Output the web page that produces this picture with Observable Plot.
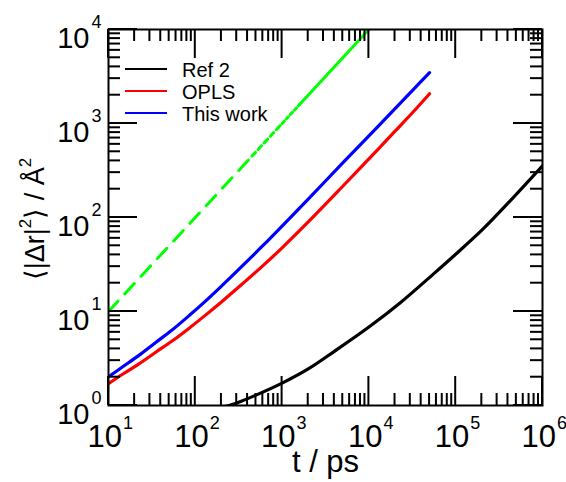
<!DOCTYPE html>
<html>
<head>
<meta charset="utf-8">
<script src="https://cdn.jsdelivr.net/npm/d3@7"></script>
<script src="https://cdn.jsdelivr.net/npm/@observablehq/plot@0.6"></script>
<style>
  body { margin: 0; background: #fff; }
  #chart svg { display: block; }
</style>
</head>
<body>
<div id="chart"></div>
<script>
// Mean-squared displacement vs. time, log-log.
const seriesNames = ["Ref 2", "OPLS", "This work"];
const seriesColors = ["#000000", "#ff0000", "#0000ff"];

// Ref 2
const ref2T   = [200, 243, 300, 500, 1000, 2000, 4000, 10000, 23000, 56000, 100000, 200000, 400000, 1000000];
const ref2Msd = [0.95, 1.0, 1.065, 1.29, 1.73, 2.45, 3.77, 6.83, 12.4, 25.3, 40.7, 73.3, 142, 355];

// OPLS
const oplsT   = [10, 15, 22, 35, 54, 85, 131, 200, 317, 564, 1000, 2000, 5000, 10000, 20000, 35000, 50000];
const oplsMsd = [1.71, 2.19, 2.74, 3.69, 4.85, 6.65, 9.15, 12.65, 18.2, 29.1, 47.6, 89.7, 215, 420, 828, 1436, 2070];

// This work
const thisWorkT   = [10, 15, 22, 35, 54, 85, 131, 200, 317, 564, 1000, 2000, 5000, 10000, 20000, 35000, 50000];
const thisWorkMsd = [2.02, 2.63, 3.37, 4.68, 6.35, 9.05, 12.9, 18.6, 28.0, 47.4, 81, 157, 381, 739, 1440, 2470, 3480];

// slope-one guide (MSD proportional to t), split where its dash style changes
const guideT   = [10, 450, 900, 1600, 10000];
const guideMsd = [10, 450, 900, 1600, 10000];

// axis tick labels: base "10" with exponent
const tickBase = "10";
const xMajor = [10, 100, 1000, 10000, 100000, 1000000];
const xTickExp = ["1", "2", "3", "4", "5", "6"];
const yMajor = [1, 10, 100, 1000, 10000];
const yTickExp = ["0", "1", "2", "3", "4"];

const xTitle = "t / ps";

const rows = (t, v) => t.map((d, i) => ({t: d, msd: v[i]}));
const series = [rows(ref2T, ref2Msd), rows(oplsT, oplsMsd), rows(thisWorkT, thisWorkMsd)];

const minorOf = (majors) => majors.slice(0, -1).flatMap(m => [2, 3, 4, 5, 6, 7, 8, 9].map(k => k * m));
const xMinor = minorOf(xMajor);
const yMinor = minorOf(yMajor);

const W = 566, H = 482, mL = 108, mR = 24, mT = 29, mB = 77;
const fw = W - mL - mR, fh = H - mT - mB;
const MAJ = 29, MIN = 12;
const font = "'Liberation Sans', Arial, Helvetica, sans-serif";
const ink = "#000000";

const guideDash = ["14,10", "5,4", "3,3", null];
const guideMarks = guideT.slice(0, -1).map((t0, i) =>
  Plot.line(
    [{t: t0, msd: guideMsd[i]}, {t: guideT[i + 1], msd: guideMsd[i + 1]}],
    {x: "t", y: "msd", stroke: "#00ff00", strokeWidth: 3, strokeDasharray: guideDash[i] ?? undefined, clip: true}
  )
);

const chart = Plot.plot({
  width: W, height: H,
  marginLeft: mL, marginRight: mR, marginTop: mT, marginBottom: mB,
  style: {fontFamily: font, background: "white", color: "black", overflow: "visible"},
  x: {type: "log", domain: [10, 1e6], axis: null},
  y: {type: "log", domain: [1, 1e4], axis: null},
  marks: [
    ...guideMarks,
    ...series.map((s, i) => Plot.line(s, {
      x: "t", y: "msd", stroke: seriesColors[i], strokeWidth: 3.2,
      curve: "catmull-rom", strokeLinecap: "round", clip: true
    })),
    Plot.frame({stroke: ink, strokeWidth: 2}),
    // tick labels
    Plot.text(xMajor, {x: d => d, text: () => tickBase, frameAnchor: "bottom", textAnchor: "end",
      lineAnchor: "bottom", dx: 13.5, dy: 41, fontSize: 31, fill: ink}),
    Plot.text(xMajor, {x: d => d, text: (d, i) => xTickExp[i], frameAnchor: "bottom", textAnchor: "start",
      lineAnchor: "bottom", dx: 14.5, dy: 23, fontSize: 18, fill: ink}),
    Plot.text(yMajor, {y: d => d, text: () => tickBase, frameAnchor: "left", textAnchor: "end",
      lineAnchor: "bottom", dx: -19, dy: 18, fontSize: 29, fill: ink}),
    Plot.text(yMajor, {y: d => d, text: (d, i) => yTickExp[i], frameAnchor: "left", textAnchor: "start",
      lineAnchor: "bottom", dx: -17, dy: -2, fontSize: 18, fill: ink}),
    // x-axis title
    Plot.text([xTitle], {text: d => d, frameAnchor: "bottom", lineAnchor: "bottom", dy: 66, fontSize: 31, fill: ink})
  ]
});

document.getElementById("chart").appendChild(chart);

const svg = d3.select(chart);
const sx = chart.scale("x"), sy = chart.scale("y");
const frameLeft = mL, frameRight = W - mR, frameTop = mT, frameBottom = H - mB;

// y-axis title with superscripts
const yTitle = svg.append("text")
  .attr("transform", `translate(44, ${mT + fh / 2 + 2}) rotate(-90)`)
  .attr("text-anchor", "middle")
  .attr("font-family", font)
  .attr("font-size", 27)
  .attr("fill", ink);
yTitle.append("tspan").text("\u27E8|\u0394r|");
yTitle.append("tspan").attr("font-size", 17).attr("dy", -13).text("2");
yTitle.append("tspan").attr("dy", 13).text("\u27E9 / \u00C5");
yTitle.append("tspan").attr("font-size", 17).attr("dy", -13).text("2");

// legend
const legend = svg.append("g").attr("font-family", font).attr("font-size", 20).attr("text-anchor", "start");
seriesNames.forEach((name, i) => {
  const y = 69 + i * 22;
  legend.append("line").attr("x1", 125).attr("x2", 167).attr("y1", y).attr("y2", y)
    .attr("stroke", seriesColors[i]).attr("stroke-width", 2);
  legend.append("text").attr("x", 182).attr("y", y + 7.5).attr("fill", ink).text(name);
});

// inward ticks on all four sides, placed with the plot's own scales
const tickLayer = svg.append("g");
const tickLine = (x1, y1, x2, y2) => tickLayer.append("line")
  .attr("x1", x1).attr("y1", y1).attr("x2", x2).attr("y2", y2)
  .attr("stroke", ink).attr("stroke-width", 2);
[[xMajor, MAJ], [xMinor, MIN]].forEach(([vals, len]) => vals.forEach(v => {
  const px = sx.apply(v);
  tickLine(px, frameBottom, px, frameBottom - len);
  tickLine(px, frameTop, px, frameTop + len);
}));
[[yMajor, MAJ], [yMinor, MIN]].forEach(([vals, len]) => vals.forEach(v => {
  const py = sy.apply(v);
  tickLine(frameLeft, py, frameLeft + len, py);
  tickLine(frameRight, py, frameRight - len, py);
}));
</script>
</body>
</html>
